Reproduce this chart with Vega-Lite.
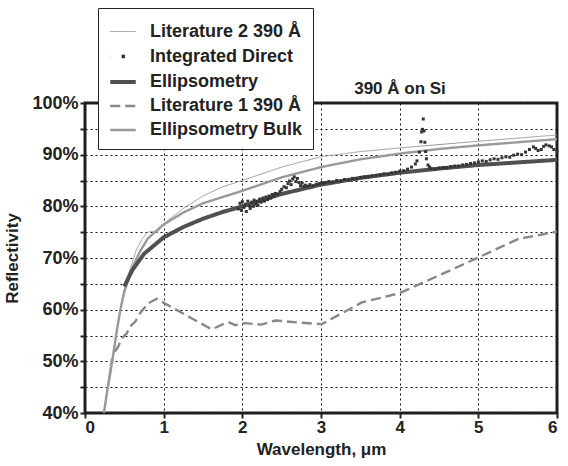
{
  "$schema": "https://vega.github.io/schema/vega-lite/v6.json",
  "autosize": {"type": "none"},
  "width": 472,
  "height": 310,
  "padding": {"left": 85, "top": 103, "right": 11, "bottom": 53},
  "background": "white",
  "title": {"text": "390 Å on Si", "dx": 79, "dy": 96, "offset": 6, "fontSize": 17, "font": "Liberation Sans Narrow, Liberation Sans", "fontWeight": "bold", "color": "#222"},
  "config": {
    "view": {"stroke": "#222", "strokeWidth": 3},
    "font": "Liberation Sans Narrow, Liberation Sans",
    "axis": {"domain": false, "grid": true, "gridColor": "#111", "gridDash": [2, 3], "gridWidth": 1, "tickColor": "#222", "tickWidth": 2, "tickSize": 5, "labelFontSize": 17, "labelFontWeight": "bold", "labelColor": "#222", "titleFontSize": 17, "titleFontWeight": "bold", "titleColor": "#222"},
    "legend": {"orient": "none", "legendX": 13, "legendY": -95, "symbolType": "stroke", "symbolSize": 650, "labelFontSize": 18, "labelFontWeight": "bold", "labelColor": "#222", "labelFont": "Liberation Sans Narrow, Liberation Sans", "labelOffset": 12, "rowPadding": 1, "padding": 10, "fillColor": "white", "strokeColor": "#222", "labelLimit": 400}
  },
  "data": {"values": [
    {"s":"Literature 2 390 Å","x":0.24,"y":40},{"s":"Literature 2 390 Å","x":0.28,"y":44.5},{"s":"Literature 2 390 Å","x":0.31,"y":48},{"s":"Literature 2 390 Å","x":0.33,"y":50.5},{"s":"Literature 2 390 Å","x":0.35,"y":49.5},{"s":"Literature 2 390 Å","x":0.38,"y":53},{"s":"Literature 2 390 Å","x":0.42,"y":57.5},{"s":"Literature 2 390 Å","x":0.47,"y":62},{"s":"Literature 2 390 Å","x":0.53,"y":66},{"s":"Literature 2 390 Å","x":0.6,"y":69},{"s":"Literature 2 390 Å","x":0.65,"y":71.5},{"s":"Literature 2 390 Å","x":0.72,"y":73.5},{"s":"Literature 2 390 Å","x":0.78,"y":74.8},{"s":"Literature 2 390 Å","x":0.83,"y":75.2},{"s":"Literature 2 390 Å","x":0.92,"y":75},{"s":"Literature 2 390 Å","x":1.0,"y":76.6},{"s":"Literature 2 390 Å","x":1.25,"y":79.6},{"s":"Literature 2 390 Å","x":1.5,"y":82},{"s":"Literature 2 390 Å","x":1.75,"y":83.8},{"s":"Literature 2 390 Å","x":2.0,"y":85},{"s":"Literature 2 390 Å","x":2.5,"y":87.6},{"s":"Literature 2 390 Å","x":3.0,"y":89.6},{"s":"Literature 2 390 Å","x":3.5,"y":90.6},{"s":"Literature 2 390 Å","x":4.0,"y":91.3},{"s":"Literature 2 390 Å","x":5.0,"y":92.6},{"s":"Literature 2 390 Å","x":6.0,"y":93.8},
    {"s":"Ellipsometry Bulk","x":0.24,"y":40},{"s":"Ellipsometry Bulk","x":0.28,"y":44},{"s":"Ellipsometry Bulk","x":0.32,"y":47.5},{"s":"Ellipsometry Bulk","x":0.36,"y":51.5},{"s":"Ellipsometry Bulk","x":0.4,"y":55.5},{"s":"Ellipsometry Bulk","x":0.45,"y":60},{"s":"Ellipsometry Bulk","x":0.5,"y":63.5},{"s":"Ellipsometry Bulk","x":0.6,"y":68},{"s":"Ellipsometry Bulk","x":0.7,"y":71.3},{"s":"Ellipsometry Bulk","x":0.8,"y":73.8},{"s":"Ellipsometry Bulk","x":1.0,"y":76.5},{"s":"Ellipsometry Bulk","x":1.25,"y":78.8},{"s":"Ellipsometry Bulk","x":1.5,"y":80.6},{"s":"Ellipsometry Bulk","x":2.0,"y":83},{"s":"Ellipsometry Bulk","x":2.5,"y":85.6},{"s":"Ellipsometry Bulk","x":3.0,"y":87.6},{"s":"Ellipsometry Bulk","x":3.5,"y":89.1},{"s":"Ellipsometry Bulk","x":4.0,"y":90.2},{"s":"Ellipsometry Bulk","x":4.5,"y":91.1},{"s":"Ellipsometry Bulk","x":5.0,"y":91.8},{"s":"Ellipsometry Bulk","x":5.5,"y":92.4},{"s":"Ellipsometry Bulk","x":6.0,"y":93},
    {"s":"Literature 1 390 Å","x":0.38,"y":51.9},{"s":"Literature 1 390 Å","x":0.42,"y":52.8},{"s":"Literature 1 390 Å","x":0.47,"y":54.5},{"s":"Literature 1 390 Å","x":0.53,"y":55.4},{"s":"Literature 1 390 Å","x":0.57,"y":56.7},{"s":"Literature 1 390 Å","x":0.64,"y":57.7},{"s":"Literature 1 390 Å","x":0.7,"y":59.3},{"s":"Literature 1 390 Å","x":0.8,"y":61.2},{"s":"Literature 1 390 Å","x":0.91,"y":62.1},{"s":"Literature 1 390 Å","x":1.36,"y":58.3},{"s":"Literature 1 390 Å","x":1.61,"y":56.2},{"s":"Literature 1 390 Å","x":1.82,"y":57.6},{"s":"Literature 1 390 Å","x":1.91,"y":57},{"s":"Literature 1 390 Å","x":2.03,"y":57.4},{"s":"Literature 1 390 Å","x":2.24,"y":57.1},{"s":"Literature 1 390 Å","x":2.42,"y":57.9},{"s":"Literature 1 390 Å","x":2.73,"y":57.5},{"s":"Literature 1 390 Å","x":3.01,"y":57.2},{"s":"Literature 1 390 Å","x":3.52,"y":61.4},{"s":"Literature 1 390 Å","x":4.0,"y":63.2},{"s":"Literature 1 390 Å","x":4.51,"y":66.7},{"s":"Literature 1 390 Å","x":5.0,"y":70.1},{"s":"Literature 1 390 Å","x":5.51,"y":73.7},{"s":"Literature 1 390 Å","x":6.0,"y":75.1},
    {"s":"Ellipsometry","x":0.5,"y":64.5},{"s":"Ellipsometry","x":0.6,"y":67.6},{"s":"Ellipsometry","x":0.75,"y":70.8},{"s":"Ellipsometry","x":1.0,"y":74},{"s":"Ellipsometry","x":1.25,"y":76},{"s":"Ellipsometry","x":1.5,"y":77.6},{"s":"Ellipsometry","x":1.75,"y":78.9},{"s":"Ellipsometry","x":2.0,"y":80},{"s":"Ellipsometry","x":2.5,"y":82.4},{"s":"Ellipsometry","x":3.0,"y":84.2},{"s":"Ellipsometry","x":3.5,"y":85.5},{"s":"Ellipsometry","x":4.0,"y":86.5},{"s":"Ellipsometry","x":4.5,"y":87.3},{"s":"Ellipsometry","x":5.0,"y":88},{"s":"Ellipsometry","x":5.5,"y":88.5},{"s":"Ellipsometry","x":6.0,"y":89},
    {"s":"Integrated Direct","x":1.95,"y":79.5},{"s":"Integrated Direct","x":1.97,"y":80.6},{"s":"Integrated Direct","x":1.99,"y":79.2},{"s":"Integrated Direct","x":2.0,"y":80.9},{"s":"Integrated Direct","x":2.02,"y":79.8},{"s":"Integrated Direct","x":2.04,"y":80.4},{"s":"Integrated Direct","x":2.05,"y":79.0},{"s":"Integrated Direct","x":2.07,"y":81.0},{"s":"Integrated Direct","x":2.09,"y":80.1},{"s":"Integrated Direct","x":2.1,"y":79.6},{"s":"Integrated Direct","x":2.12,"y":80.8},{"s":"Integrated Direct","x":2.14,"y":80.0},{"s":"Integrated Direct","x":2.15,"y":81.2},{"s":"Integrated Direct","x":2.17,"y":80.4},{"s":"Integrated Direct","x":2.19,"y":80.9},{"s":"Integrated Direct","x":2.2,"y":80.2},{"s":"Integrated Direct","x":2.22,"y":81.4},{"s":"Integrated Direct","x":2.24,"y":80.8},{"s":"Integrated Direct","x":2.26,"y":81.6},{"s":"Integrated Direct","x":2.28,"y":81.0},{"s":"Integrated Direct","x":2.3,"y":81.8},{"s":"Integrated Direct","x":2.32,"y":81.3},{"s":"Integrated Direct","x":2.34,"y":82.0},{"s":"Integrated Direct","x":2.36,"y":81.6},{"s":"Integrated Direct","x":2.38,"y":82.3},{"s":"Integrated Direct","x":2.4,"y":82.0},{"s":"Integrated Direct","x":2.42,"y":82.5},{"s":"Integrated Direct","x":2.45,"y":82.4},{"s":"Integrated Direct","x":2.48,"y":82.9},{"s":"Integrated Direct","x":2.5,"y":83.3},{"s":"Integrated Direct","x":2.53,"y":83.8},{"s":"Integrated Direct","x":2.56,"y":83.6},{"s":"Integrated Direct","x":2.58,"y":84.4},{"s":"Integrated Direct","x":2.6,"y":84.9},{"s":"Integrated Direct","x":2.62,"y":84.2},{"s":"Integrated Direct","x":2.64,"y":85.3},{"s":"Integrated Direct","x":2.66,"y":85.7},{"s":"Integrated Direct","x":2.68,"y":84.8},{"s":"Integrated Direct","x":2.7,"y":85.4},{"s":"Integrated Direct","x":2.72,"y":84.6},{"s":"Integrated Direct","x":2.74,"y":84.0},{"s":"Integrated Direct","x":2.76,"y":84.5},{"s":"Integrated Direct","x":2.78,"y":83.8},{"s":"Integrated Direct","x":2.8,"y":84.1},{"s":"Integrated Direct","x":2.83,"y":83.9},{"s":"Integrated Direct","x":2.86,"y":84.2},{"s":"Integrated Direct","x":2.9,"y":84.0},{"s":"Integrated Direct","x":2.94,"y":84.3},{"s":"Integrated Direct","x":2.98,"y":84.4},{"s":"Integrated Direct","x":3.02,"y":84.5},{"s":"Integrated Direct","x":3.05,"y":84.6},{"s":"Integrated Direct","x":3.1,"y":84.8},{"s":"Integrated Direct","x":3.15,"y":84.7},{"s":"Integrated Direct","x":3.2,"y":85.0},{"s":"Integrated Direct","x":3.25,"y":84.9},{"s":"Integrated Direct","x":3.3,"y":85.2},{"s":"Integrated Direct","x":3.35,"y":85.1},{"s":"Integrated Direct","x":3.4,"y":85.4},{"s":"Integrated Direct","x":3.45,"y":85.3},{"s":"Integrated Direct","x":3.5,"y":85.6},{"s":"Integrated Direct","x":3.55,"y":85.7},{"s":"Integrated Direct","x":3.6,"y":85.8},{"s":"Integrated Direct","x":3.65,"y":85.9},{"s":"Integrated Direct","x":3.7,"y":86.0},{"s":"Integrated Direct","x":3.75,"y":86.1},{"s":"Integrated Direct","x":3.8,"y":86.3},{"s":"Integrated Direct","x":3.85,"y":86.2},{"s":"Integrated Direct","x":3.9,"y":86.5},{"s":"Integrated Direct","x":3.95,"y":86.6},{"s":"Integrated Direct","x":4.0,"y":86.8},{"s":"Integrated Direct","x":4.05,"y":86.9},{"s":"Integrated Direct","x":4.1,"y":87.2},{"s":"Integrated Direct","x":4.15,"y":87.6},{"s":"Integrated Direct","x":4.2,"y":88.2},{"s":"Integrated Direct","x":4.22,"y":88.8},{"s":"Integrated Direct","x":4.25,"y":90.5},{"s":"Integrated Direct","x":4.27,"y":92.5},{"s":"Integrated Direct","x":4.28,"y":94.4},{"s":"Integrated Direct","x":4.29,"y":94.9},{"s":"Integrated Direct","x":4.3,"y":96.9},{"s":"Integrated Direct","x":4.31,"y":94.6},{"s":"Integrated Direct","x":4.32,"y":92.4},{"s":"Integrated Direct","x":4.33,"y":90.6},{"s":"Integrated Direct","x":4.34,"y":89.2},{"s":"Integrated Direct","x":4.36,"y":88.0},{"s":"Integrated Direct","x":4.38,"y":87.6},{"s":"Integrated Direct","x":4.4,"y":87.3},{"s":"Integrated Direct","x":4.45,"y":87.2},{"s":"Integrated Direct","x":4.5,"y":87.4},{"s":"Integrated Direct","x":4.55,"y":87.5},{"s":"Integrated Direct","x":4.6,"y":87.5},{"s":"Integrated Direct","x":4.65,"y":87.7},{"s":"Integrated Direct","x":4.7,"y":87.8},{"s":"Integrated Direct","x":4.75,"y":87.8},{"s":"Integrated Direct","x":4.8,"y":88.0},{"s":"Integrated Direct","x":4.85,"y":88.1},{"s":"Integrated Direct","x":4.9,"y":88.3},{"s":"Integrated Direct","x":4.95,"y":88.4},{"s":"Integrated Direct","x":5.0,"y":88.6},{"s":"Integrated Direct","x":5.05,"y":88.8},{"s":"Integrated Direct","x":5.1,"y":88.7},{"s":"Integrated Direct","x":5.15,"y":89.0},{"s":"Integrated Direct","x":5.2,"y":89.2},{"s":"Integrated Direct","x":5.25,"y":89.1},{"s":"Integrated Direct","x":5.3,"y":89.4},{"s":"Integrated Direct","x":5.35,"y":89.6},{"s":"Integrated Direct","x":5.4,"y":89.5},{"s":"Integrated Direct","x":5.45,"y":89.9},{"s":"Integrated Direct","x":5.5,"y":90.1},{"s":"Integrated Direct","x":5.55,"y":90.0},{"s":"Integrated Direct","x":5.6,"y":90.5},{"s":"Integrated Direct","x":5.65,"y":91.0},{"s":"Integrated Direct","x":5.7,"y":91.5},{"s":"Integrated Direct","x":5.73,"y":91.2},{"s":"Integrated Direct","x":5.76,"y":90.8},{"s":"Integrated Direct","x":5.8,"y":91.0},{"s":"Integrated Direct","x":5.83,"y":91.6},{"s":"Integrated Direct","x":5.86,"y":91.9},{"s":"Integrated Direct","x":5.9,"y":91.7},{"s":"Integrated Direct","x":5.93,"y":91.5},{"s":"Integrated Direct","x":5.96,"y":91.0},{"s":"Integrated Direct","x":6.0,"y":90.6}
  ]},
  "encoding": {
    "x": {"field": "x", "type": "quantitative", "scale": {"domain": [0, 6], "nice": false}, "axis": {"values": [0,1,2,3,4,5,6], "title": "Wavelength, μm", "titlePadding": 6, "labelPadding": 1}},
    "y": {"field": "y", "type": "quantitative", "scale": {"domain": [40, 100], "nice": false}, "axis": {"values": [40,45,50,55,60,65,70,75,80,85,90,95,100], "labelExpr": "datum.value % 10 == 0 ? datum.value + '%' : ''", "title": "Reflectivity", "titlePadding": 10, "labelPadding": 2, "labelFontSize": 18}}
  },
  "layer": [
    {
      "transform": [{"filter": "datum.s != 'Integrated Direct'"}],
      "mark": {"type": "line", "clip": true},
      "encoding": {
        "detail": {"field": "s"},
        "order": {"field": "x", "type": "quantitative"},
        "color": {"field": "s", "type": "nominal", "legend": {"title": null},
          "scale": {"domain": ["Literature 2 390 Å", "Integrated Direct", "Ellipsometry", "Literature 1 390 Å", "Ellipsometry Bulk"], "range": ["#9a9a9a", "#333333", "#505050", "#888888", "#999999"]}},
        "strokeDash": {"field": "s", "type": "nominal", "legend": {"title": null},
          "scale": {"domain": ["Literature 2 390 Å", "Integrated Direct", "Ellipsometry", "Literature 1 390 Å", "Ellipsometry Bulk"], "range": [[1, 0], [0.1, 11.2, 3.5, 100], [1, 0], [10, 5], [1, 0]]}},
        "strokeWidth": {"field": "s", "type": "nominal", "legend": {"title": null},
          "scale": {"type": "ordinal", "domain": ["Literature 2 390 Å", "Integrated Direct", "Ellipsometry", "Literature 1 390 Å", "Ellipsometry Bulk"], "range": [1, 3.5, 4, 2.4, 2.4]}}
      }
    },
    {
      "transform": [{"filter": "datum.s == 'Integrated Direct'"}],
      "mark": {"type": "point", "shape": "square", "filled": true, "size": 9, "color": "#333333", "opacity": 1}
    }
  ]
}
